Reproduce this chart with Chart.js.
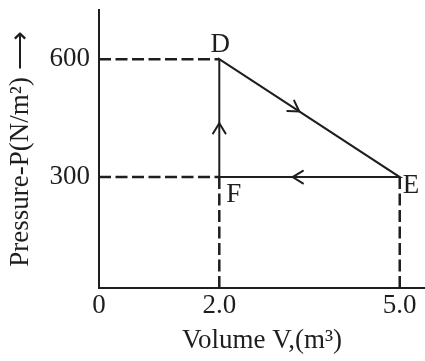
<!DOCTYPE html>
<html>
<head>
<meta charset="utf-8">
<script src="https://cdn.jsdelivr.net/npm/chart.js@4/dist/chart.umd.min.js"></script>
<style>
  html, body { margin: 0; padding: 0; background: #ffffff; }
  canvas { display: block; }
</style>
</head>
<body>
<canvas id="c" width="425" height="361"></canvas>
<script>
// ---- data ----
const vertexNames = ['F', 'D', 'E'];
const vertexV = [2.0, 2.0, 5.0];       // volume (m^3)
const vertexP = [300, 600, 300];       // pressure (N/m^2)
const xTickValues = [0, 2, 5];
const xTickLabels = ['0', '2.0', '5.0'];
const yTickValues = [300, 600];
const yTickLabels = ['300', '600'];
const xMin = 0, xMax = 5.42;
const yMin = 18, yMax = 725;
// arrow heads on the cycle (tip positions) and the vertex each one points to
const arrowV = [2.0, 3.33, 3.22];
const arrowP = [437, 467, 300];
const arrowTo = [1, 2, 0];

const INK = '#1e1e1e';
const SERIF = '"Liberation Serif", "Times New Roman", serif';

// cycle F -> D -> E -> F
const cycle = [0, 1, 2, 0].map(i => ({ x: vertexV[i], y: vertexP[i] }));

const dashed = (pts) => ({
  data: pts,
  showLine: true,
  borderColor: INK,
  borderWidth: 2.5,
  borderDash: [12, 4.5],
  pointRadius: 0,
  tension: 0,
  fill: false
});

const guides = [
  dashed([{ x: xMin, y: vertexP[1] }, { x: vertexV[1], y: vertexP[1] }]),
  dashed([{ x: xMin, y: vertexP[0] }, { x: vertexV[0], y: vertexP[0] }]),
  dashed([{ x: vertexV[0], y: vertexP[0] }, { x: vertexV[0], y: yMin }]),
  dashed([{ x: vertexV[2], y: vertexP[2] }, { x: vertexV[2], y: yMin }])
];

const labelPlugin = {
  id: 'cycleDecor',
  afterDatasetsDraw(chart) {
    const { ctx, scales: { x, y } } = chart;
    ctx.save();
    // arrow heads
    ctx.strokeStyle = INK;
    ctx.lineWidth = 2;
    ctx.lineCap = 'round';
    const len = 12, half = 0.55;
    arrowV.forEach((v, i) => {
      const px = x.getPixelForValue(v), py = y.getPixelForValue(arrowP[i]);
      const tx = x.getPixelForValue(vertexV[arrowTo[i]]), ty = y.getPixelForValue(vertexP[arrowTo[i]]);
      const a = Math.atan2(ty - py, tx - px);
      ctx.beginPath();
      ctx.moveTo(px - len * Math.cos(a - half), py - len * Math.sin(a - half));
      ctx.lineTo(px, py);
      ctx.lineTo(px - len * Math.cos(a + half), py - len * Math.sin(a + half));
      ctx.stroke();
    });
    // vertex labels
    ctx.fillStyle = INK;
    ctx.font = '27px ' + SERIF;
    ctx.textBaseline = 'alphabetic';
    const offs = { D: [1, -7, 'center'], E: [3, 16, 'left'], F: [7, 25, 'left'] };
    vertexNames.forEach((n, i) => {
      const px = x.getPixelForValue(vertexV[i]), py = y.getPixelForValue(vertexP[i]);
      const o = offs[n];
      ctx.textAlign = o[2];
      ctx.fillText(n, px + o[0], py + o[1]);
    });
    ctx.restore();
  }
};

new Chart(document.getElementById('c'), {
  type: 'scatter',
  data: {
    datasets: guides.concat([{
      data: cycle,
      showLine: true,
      borderColor: INK,
      borderWidth: 2,
      pointRadius: 0,
      tension: 0,
      fill: false
    }])
  },
  options: {
    responsive: false,
    animation: false,
    devicePixelRatio: 1,
    layout: { padding: { top: 10, right: 0, bottom: 0, left: 0 } },
    plugins: { legend: { display: false }, tooltip: { enabled: false } },
    scales: {
      x: {
        type: 'linear',
        min: xMin, max: xMax,
        afterBuildTicks: (s) => { s.ticks = xTickValues.map(v => ({ value: v })); },
        afterFit: (s) => { s.height = 73; },
        grid: { display: false, drawTicks: false },
        border: { display: true, color: INK, width: 2 },
        ticks: {
          color: INK,
          font: { family: SERIF, size: 27 },
          padding: 2,
          maxRotation: 0,
          autoSkip: false,
          callback: (v) => xTickLabels[xTickValues.indexOf(v)]
        },
        title: {
          display: true,
          text: 'Volume V,(m³)',
          color: INK,
          font: { family: SERIF, size: 27 },
          padding: { top: 0, bottom: 4 }
        }
      },
      y: {
        type: 'linear',
        min: yMin, max: yMax,
        afterBuildTicks: (s) => { s.ticks = yTickValues.map(v => ({ value: v })); },
        afterFit: (s) => { s.width = 99; s.paddingTop = 0; s.paddingBottom = 0; },
        grid: { display: false, drawTicks: false },
        border: { display: true, color: INK, width: 2 },
        ticks: {
          color: INK,
          font: { family: SERIF, size: 27, lineHeight: 0.4 },
          padding: 9,
          autoSkip: false,
          callback: (v) => yTickLabels[yTickValues.indexOf(v)]
        },
        title: {
          display: true,
          text: 'Pressure-P(N/m²) ⟶',
          color: INK,
          font: { family: SERIF, size: 27 },
          padding: { top: 5, bottom: 0 }
        }
      }
    }
  },
  plugins: [labelPlugin]
});
</script>
</body>
</html>
